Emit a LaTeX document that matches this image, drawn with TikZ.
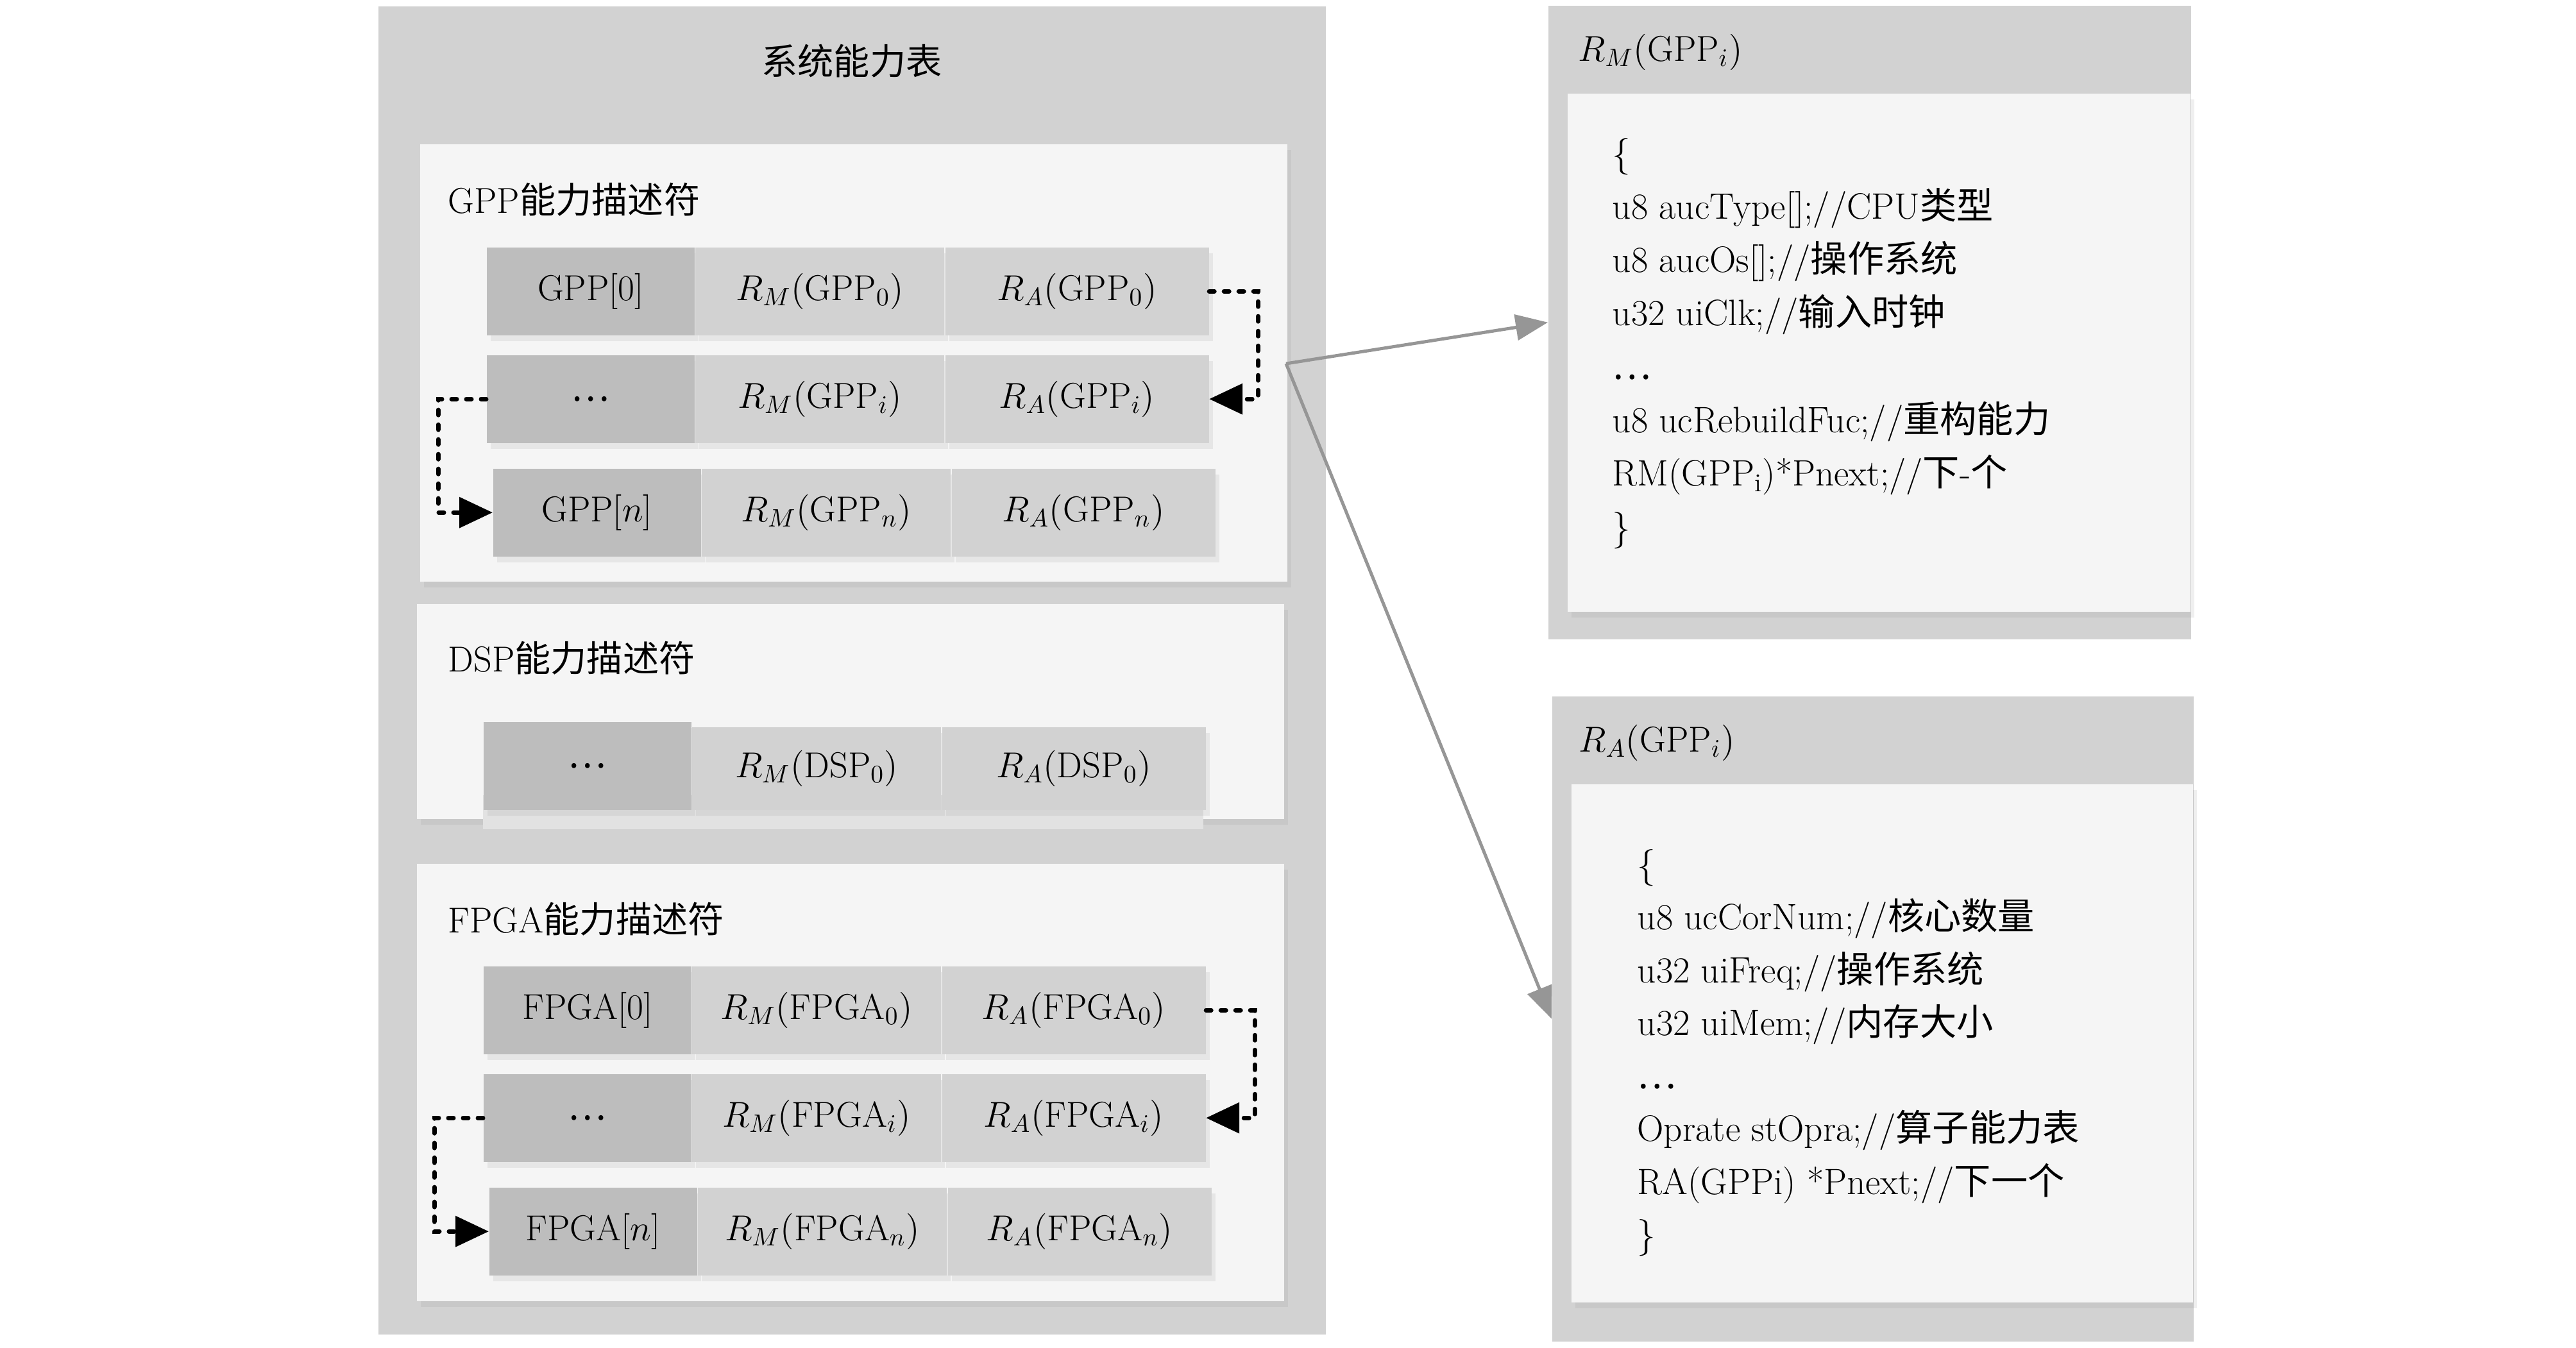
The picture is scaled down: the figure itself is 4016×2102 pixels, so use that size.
\RequirePackage{fix-cm}
\documentclass[tikz,border=0pt]{standalone}
\usepackage{fontspec}
\newfontfamily\cjk{Noto Sans CJK SC}
\usetikzlibrary{positioning,arrows.meta,shadows}
\definecolor{boxgray}{RGB}{210,210,210}
\definecolor{panelwhite}{RGB}{245,245,245}
\definecolor{iddark}{RGB}{189,189,189}
\definecolor{fieldgray}{RGB}{210,210,210}
\definecolor{bandgray}{RGB}{226,226,226}
\definecolor{linkgray}{RGB}{150,150,150}
\newcommand\bigdots{{\cjk …}}

\tikzset{
  softshade/.style={drop shadow={shadow xshift=0.6mm, shadow yshift=-0.9mm, opacity=0.12}},
  panel/.style={fill=panelwhite, softshade},
  plabel/.style={anchor=base west, inner sep=0pt},
  idcell/.style={rectangle, fill=iddark, minimum width=32.4mm, minimum height=13.7mm,
    inner sep=0pt, anchor=north west, softshade},
  rmcell/.style={rectangle, fill=fieldgray, minimum width=38.8mm, minimum height=13.7mm,
    inner sep=0pt, softshade},
  racell/.style={rectangle, fill=fieldgray, minimum width=41.1mm, minimum height=13.7mm,
    inner sep=0pt, softshade},
  hdrbox/.style={rectangle, fill=boxgray, anchor=north west, inner sep=0pt},
  codeline/.style={anchor=base west, inner sep=0pt, font=\fontsize{16.3pt}{19pt}\selectfont},
  chain/.style={line width=0.7mm, dash pattern=on 0.8mm off 1.5mm, line cap=round,
    -{Triangle[length=5.2mm,width=4.7mm]}},
  refer/.style={draw=linkgray, line width=0.5mm, -{Triangle[length=5mm,width=4mm]}}
}

\begin{document}
\begin{tikzpicture}[x=0.1mm, y=-0.1mm, font=\fontsize{16pt}{19pt}\selectfont]
\useasboundingbox (0,0) rectangle (4016,2102);
\fill[white] (0,0) rectangle (4016,2102);

% system capability table
\fill[boxgray] (590,10) rectangle (2067,2081);
\node (systitle) at (1328,95) {\cjk 系统能力表};

% GPP descriptor
\path[panel] (655,225) rectangle (2007,907);
\node[plabel] (gpplabel) at (698,332) {GPP{\cjk 能力描述符}};
\node[idcell] (g0) at (758,385) {GPP[0]};
\node[rmcell, right=0pt of g0] (g0m) {$R_M(\mathrm{GPP}_0)$};
\node[racell, right=0pt of g0m] (g0a) {$R_A(\mathrm{GPP}_0)$};
\node[idcell] (gi) at (758,553) {\bigdots};
\node[rmcell, right=0pt of gi] (gim) {$R_M(\mathrm{GPP}_i)$};
\node[racell, right=0pt of gim] (gia) {$R_A(\mathrm{GPP}_i)$};
\node[idcell] (gn) at (768,730) {GPP[$n$]};
\node[rmcell, right=0pt of gn] (gnm) {$R_M(\mathrm{GPP}_n)$};
\node[racell, right=0pt of gnm] (gna) {$R_A(\mathrm{GPP}_n)$};
\draw[chain] (g0a.east) -- ++(76,0) |- (gia.east);
\draw[chain] (gi.west) -- ++(-75,0) |- (gn.west);

% DSP descriptor
\path[panel] (650,942) rectangle (2002,1277);
\node[plabel] (dsplabel) at (698,1047) {DSP{\cjk 能力描述符}};
\fill[bandgray] (753,1240) rectangle (1876,1293);
\node[idcell] (d0) at (753,1125) {\bigdots};
\node[rmcell, minimum height=12.9mm, anchor=south west] (d0m) at (d0.south east) {$R_M(\mathrm{DSP}_0)$};
\node[racell, minimum height=12.9mm, anchor=south west] (d0a) at (d0m.south east) {$R_A(\mathrm{DSP}_0)$};

% FPGA descriptor
\path[panel] (650,1347) rectangle (2002,2029);
\node[plabel] (fpgalabel) at (698,1454) {FPGA{\cjk 能力描述符}};
\node[idcell] (f0) at (753,1506) {FPGA[0]};
\node[rmcell, right=0pt of f0] (f0m) {$R_M(\mathrm{FPGA}_0)$};
\node[racell, right=0pt of f0m] (f0a) {$R_A(\mathrm{FPGA}_0)$};
\node[idcell] (fi) at (753,1674) {\bigdots};
\node[rmcell, right=0pt of fi] (fim) {$R_M(\mathrm{FPGA}_i)$};
\node[racell, right=0pt of fim] (fia) {$R_A(\mathrm{FPGA}_i)$};
\node[idcell] (fn) at (762,1851) {FPGA[$n$]};
\node[rmcell, right=0pt of fn] (fnm) {$R_M(\mathrm{FPGA}_n)$};
\node[racell, right=0pt of fnm] (fna) {$R_A(\mathrm{FPGA}_n)$};
\draw[chain] (f0a.east) -- ++(76,0) |- (fia.east);
\draw[chain] (fi.west) -- ++(-76,0) |- (fn.west);

% R_M(GPP_i) structure
\node[hdrbox, minimum width=100.2mm, minimum height=98.8mm] (rmbox) at (2413,8) {};
\path[panel] (2444,146) rectangle (3415,954);
\node[plabel] (rmtitle) at (2460,95) {$R_M(\mathrm{GPP}_i)$};
\foreach \txt [count=\k] in {{\{}, {u8 aucType[];//CPU{\cjk 类型}}, {u8 aucOs[];//{\cjk 操作系统}},
    {u32 uiClk;//{\cjk 输入时钟}}, {\bigdots}, {u8 ucRebuildFuc;//{\cjk 重构能力}},
    {RM(GPP\textsubscript{i})*Pnext;//{\cjk 下}-{\cjk 个}}, {\}}}
  \node[codeline] (rmline\k) at (2513,{258+(\k-1)*83.3}) {\txt};

% R_A(GPP_i) structure
\node[hdrbox, minimum width=100mm, minimum height=100.6mm] (rabox) at (2419,1085) {};
\path[panel] (2450,1223) rectangle (3419,2031);
\node[plabel] (ratitle) at (2461,1172) {$R_A(\mathrm{GPP}_i)$};
\foreach \txt [count=\k] in {{\{}, {u8 ucCorNum;//{\cjk 核心数量}}, {u32 uiFreq;//{\cjk 操作系统}},
    {u32 uiMem;//{\cjk 内存大小}}, {\bigdots}, {Oprate stOpra;//{\cjk 算子能力表}},
    {RA(GPPi) *Pnext;//{\cjk 下一个}}, {\}}}
  \node[codeline] (raline\k) at (2552,{1367+(\k-1)*82.5}) {\txt};

% references from GPP_i
\coordinate (fork) at (2005,567);
\draw[refer] (fork) -- (rmbox.west);
\draw[refer] (fork) -- (rabox.west);
\end{tikzpicture}
\end{document}
